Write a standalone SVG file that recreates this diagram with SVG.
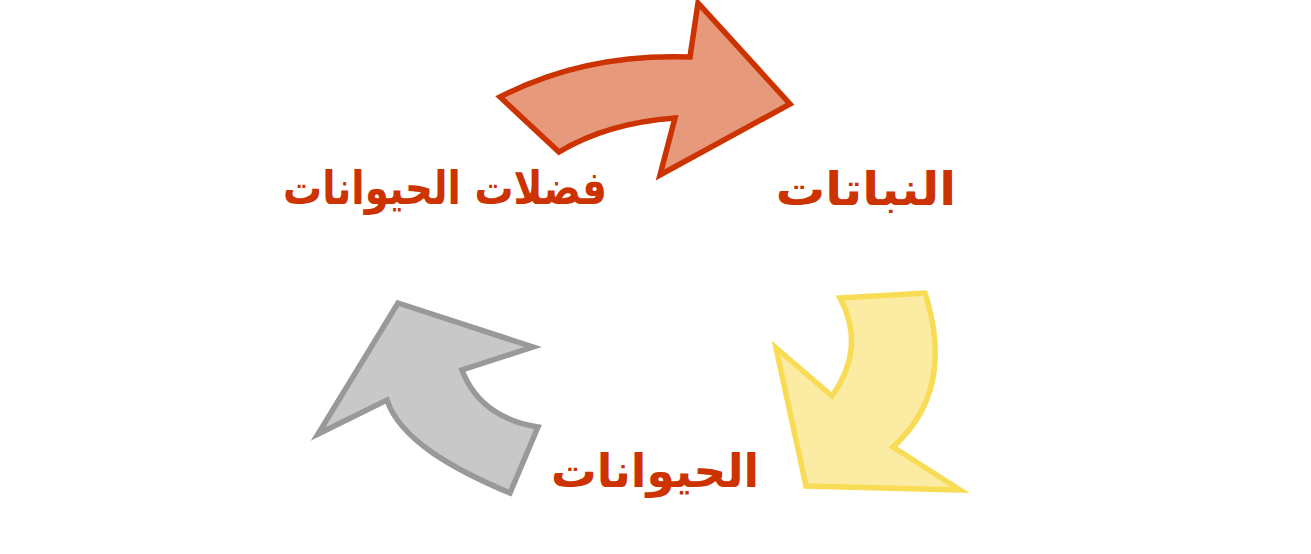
<svg xmlns="http://www.w3.org/2000/svg" width="1311" height="554" viewBox="0 0 1311 554">
<style>
.lbl{font-family:"DejaVu Sans",sans-serif;font-weight:bold;fill:#CC3300;text-anchor:middle;direction:rtl;font-size:46px}
.a{stroke-width:5.5;stroke-linejoin:miter}
</style>
<rect width="1311" height="554" fill="#FFFFFF"/>
<g id="connectors">
<path id="arrow-red" class="a" fill="#E6997B" stroke="#CC3300" d="M500,97 Q585,53 690,57 L698,3 L790,104 L660,175 L675,118 Q607,123 559,152 Z"/>
<path id="arrow-yellow" class="a" fill="#FCEBA3" stroke="#F9DC55" d="M840,298 L925,293 C940,340 945,400 893,447 L960,490 L806,486 L776,348 L832,396 C852,368 860,335 840,298 Z"/>
<path id="arrow-gray" class="a" fill="#C8C8C8" stroke="#999999" d="M398,303 L533,347 L462,370 C475,405 505,422 538,427 L510,493 C455,470 400,440 387,400 L318,434 Z"/>
</g>
<g id="node-waste"><text class="lbl" transform="translate(445,204) scale(0.846,1)">فضلات الحيوانات</text></g>
<g id="node-plants"><text class="lbl" transform="translate(866,205) scale(1.07,1)">النباتات</text></g>
<g id="node-animals"><text class="lbl" transform="translate(655,487) scale(0.99,1)">الحيوانات</text></g>
</svg>
